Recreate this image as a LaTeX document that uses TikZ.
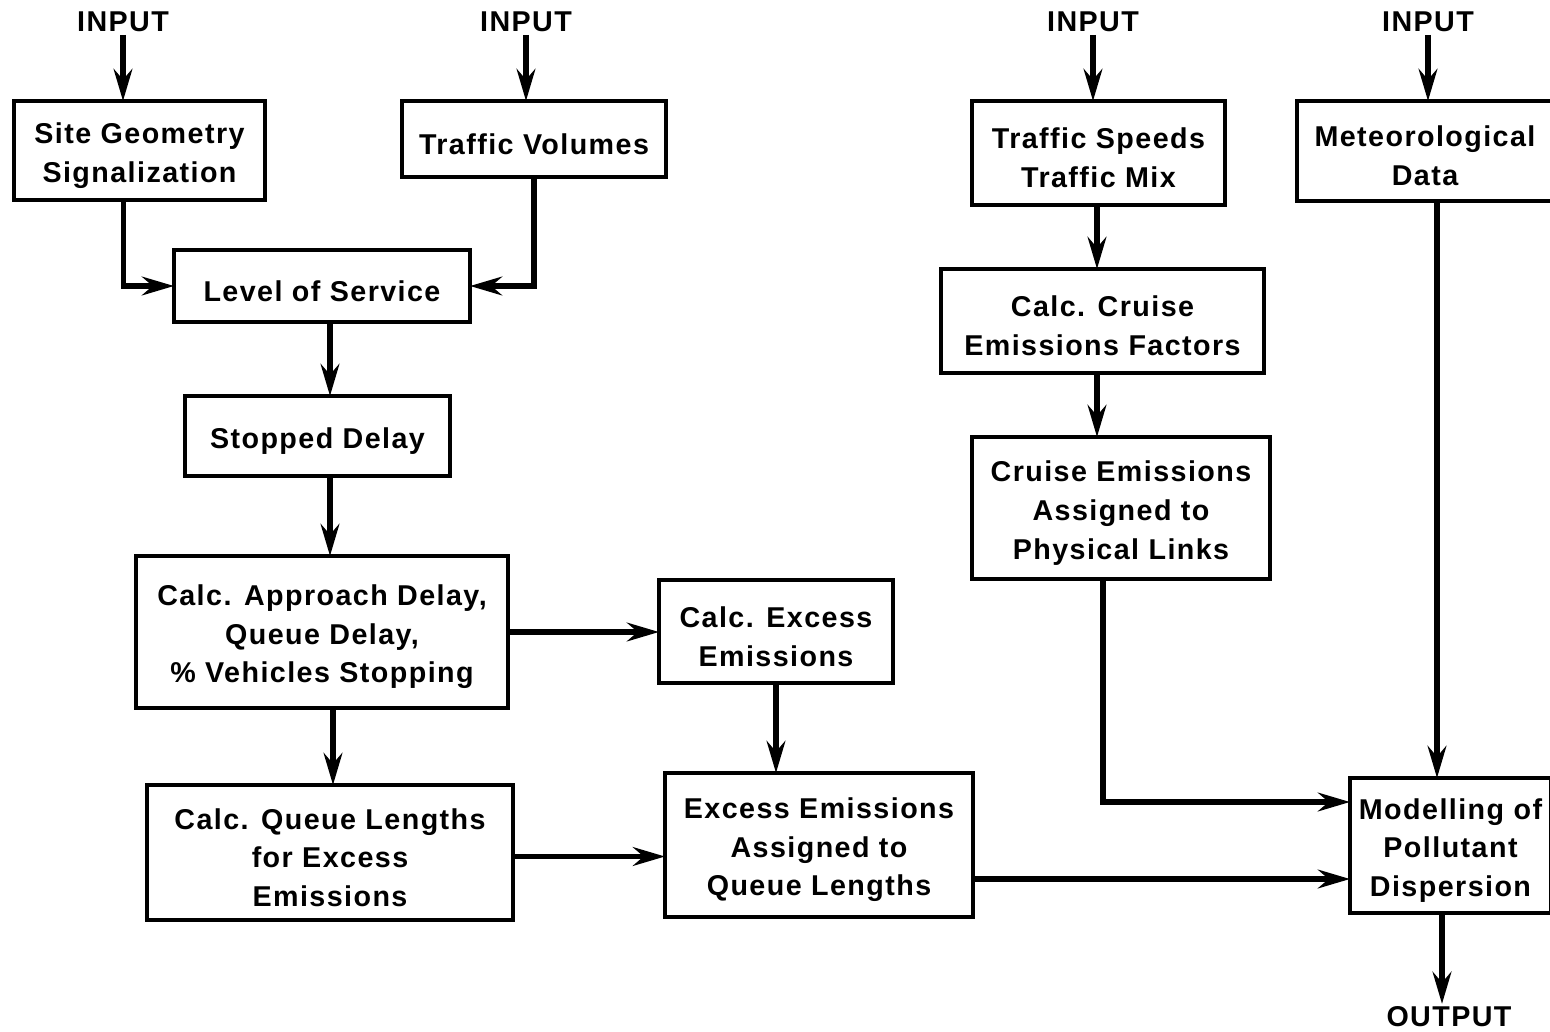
\documentclass[tikz,border=0pt]{standalone}
\usepackage{fontspec}
\setmainfont{Liberation Sans}[LetterSpace=5]
\usetikzlibrary{arrows.meta}
\newlength\pxu
\setlength\pxu{0.75pt}
\tikzset{
  box/.style={draw, line width=3.6pt, inner sep=2pt, outer sep=0pt, align=center,
    font=\fontsize{21.5}{29}\selectfont\bfseries},
  lbl/.style={inner sep=2pt, font=\fontsize{21.5}{25}\selectfont\bfseries},
  arr/.style={line width=4.2pt, -{Stealth[length=24pt, width=14pt, inset=8pt]}}
}
\newcommand\bx[6]{\node[box, minimum width=#4\pxu, minimum height=#5\pxu] (#1) at (#2,#3) {\rule{0pt}{23pt}#6};}
\begin{document}
\begin{tikzpicture}[x=0.75pt, y=-0.75pt]
\useasboundingbox (0,0) rectangle (1550,1032);
% labels
\node[lbl] (in1) at (123,22) {INPUT};
\node[lbl] (in2) at (526,22) {INPUT};
\node[lbl] (in3) at (1093,22) {INPUT};
\node[lbl] (in4) at (1428,22) {INPUT};
\node[lbl] (out) at (1449,1017) {OUTPUT};
% boxes
\bx{site}{139.5}{150.5}{251}{99}{Site Geometry\\Signalization}
\bx{vol}{534}{139}{264}{76}{Traffic Volumes}
\bx{los}{322}{286}{296}{72}{Level of Service}
\bx{stop}{317.5}{436}{265}{80}{Stopped Delay}
\bx{appr}{322}{632}{372}{152}{Calc. Approach Delay,\\Queue Delay,\\\% Vehicles Stopping}
\bx{exc}{776}{631.5}{234}{103}{Calc. Excess\\Emissions}
\bx{qlen}{330}{852.5}{366}{135}{Calc. Queue Lengths\\for Excess\\Emissions}
\bx{assign}{819}{845}{308}{144}{Excess Emissions\\Assigned to\\Queue Lengths}
\bx{speed}{1098.5}{153}{253}{104}{Traffic Speeds\\Traffic Mix}
\bx{met}{1425}{151}{256}{100}{Meteorological\\Data}
\bx{cruise}{1102.5}{321}{323}{104}{Calc. Cruise\\Emissions Factors}
\bx{cea}{1121}{508}{298}{142}{Cruise Emissions\\Assigned to\\Physical Links}
\bx{model}{1450.5}{845.5}{201}{135}{Modelling of\\Pollutant\\Dispersion}
% connectors
\draw[arr] (in1.south) -- (in1.south |- site.north);
\draw[arr] (in2.south) -- (in2.south |- vol.north);
\draw[arr] (in3.south) -- (in3.south |- speed.north);
\draw[arr] (in4.south) -- (in4.south |- met.north);
\draw[arr] ([xshift=-16\pxu]site.south) |- (los.west);
\draw[arr] (vol.south) |- (los.east);
\draw[arr] ([xshift=8\pxu]los.south) -- ([xshift=8\pxu]los.south |- stop.north);
\draw[arr] ([xshift=12.5\pxu]stop.south) -- ([xshift=12.5\pxu]stop.south |- appr.north);
\draw[arr] (appr.east) -- (appr.east -| exc.west);
\draw[arr] ([xshift=11\pxu]appr.south) -- ([xshift=11\pxu]appr.south |- qlen.north);
\draw[arr] (exc.south) -- (exc.south |- assign.north);
\draw[arr] ([yshift=-4\pxu]qlen.east) -- ([yshift=-4\pxu]qlen.east -| assign.west);
\draw[arr] ([yshift=-34\pxu]assign.east) -- ([yshift=-34\pxu]assign.east -| model.west);
\draw[arr] ([xshift=-1.5\pxu]speed.south) -- ([xshift=-1.5\pxu]speed.south |- cruise.north);
\draw[arr] ([xshift=-5.5\pxu]cruise.south) -- ([xshift=-5.5\pxu]cruise.south |- cea.north);
\draw[arr] ([xshift=-18\pxu]cea.south) |- ([yshift=43.5\pxu]model.west);
\draw[arr] ([xshift=12\pxu]met.south) -- ([xshift=12\pxu]met.south |- model.north);
\draw[arr] ([xshift=-8.5\pxu]model.south) -- ([xshift=-8.5\pxu]model.south |- out.north);
\end{tikzpicture}
\end{document}
